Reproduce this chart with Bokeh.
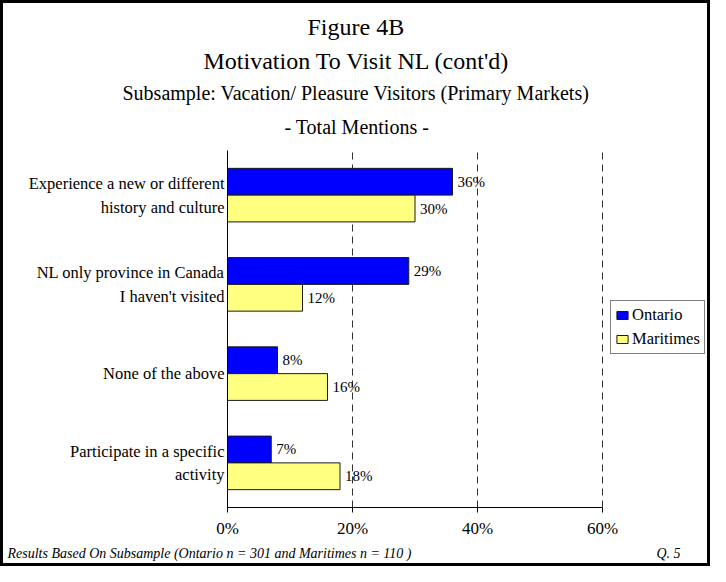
from bokeh.plotting import figure
from bokeh.models import (FactorRange, Range1d, FixedTicker, NumeralTickFormatter,
                          Title, Legend, LegendItem, ColumnDataSource)
from bokeh.transform import dodge
from bokeh.core.properties import value
from bokeh.embed import file_html
from bokeh.resources import INLINE

# ---- data ----
categories = [
    "Experience a new or different\nhistory and culture",
    "NL only province in Canada\nI haven't visited",
    "None of the above",
    "Participate in a specific\nactivity",
]
series_names = ["Ontario", "Maritimes"]
ontario = [0.36, 0.29, 0.08, 0.07]
maritimes = [0.30, 0.12, 0.16, 0.18]
x_ticks = [0, 0.2, 0.4, 0.6]
grid_ticks = [0.2, 0.4, 0.6]

title_lines = [
    "Figure 4B",
    "Motivation To Visit NL (cont'd)",
    "Subsample: Vacation/ Pleasure Visitors (Primary Markets)",
    "- Total Mentions -",
]
footer_text = "Results Based On Subsample (Ontario n = 301 and Maritimes n = 110 )"
question_text = "Q. 5"

FONT = "Liberation Serif"
ONT_COLOR = "#0000FF"
MAR_COLOR = "#FFFF80"
EDGE = "#1a1a1a"

# layout (pixels)
AXIS_W = 375                      # width of the 0..60% axis
ML, MR, MT, MB = 224, 2, 147, 56
FW, FH = 704 - ML - MR, 357
X_MAX = x_ticks[-1] * FW / AXIS_W  # frame extends right to hold the legend

src = ColumnDataSource(dict(
    cat=categories,
    ontario=ontario,
    maritimes=maritimes,
    ont_lbl=[f"{v:.0%}" for v in ontario],
    mar_lbl=[f"{v:.0%}" for v in maritimes],
))

p = figure(frame_width=FW, frame_height=FH,
           y_range=FactorRange(factors=categories[::-1]),
           x_range=Range1d(0, X_MAX),
           output_backend="svg", toolbar_location=None,
           title_location=None,
           min_border_left=ML, min_border_right=MR,
           min_border_top=MT, min_border_bottom=MB)
p.styles = {"border": "3px solid black"}
p.background_fill_color = "white"
p.border_fill_color = "white"
p.outline_line_color = None

off = 0.15
bh = 0.3
r_ont = p.hbar(y=dodge("cat", off, range=p.y_range), left=0, right="ontario", height=bh,
               source=src, fill_color=ONT_COLOR, line_color=EDGE, line_width=1)
r_mar = p.hbar(y=dodge("cat", -off, range=p.y_range), left=0, right="maritimes", height=bh,
               source=src, fill_color=MAR_COLOR, line_color=EDGE, line_width=1)

for col, lbl, o in (("ontario", "ont_lbl", off), ("maritimes", "mar_lbl", -off)):
    p.text(x=col, y=dodge("cat", o, range=p.y_range), text=lbl, source=src,
           x_offset=5, text_align="left", text_baseline="middle",
           text_font=value(FONT), text_font_size="15px", text_color="black")

# axes
p.xaxis.ticker = FixedTicker(ticks=x_ticks)
p.xaxis.bounds = (x_ticks[0], x_ticks[-1])
p.xaxis.formatter = NumeralTickFormatter(format="0%")
p.xaxis.axis_line_color = "black"
p.xaxis.major_tick_line_color = "black"
p.xaxis.major_tick_out = 5
p.xaxis.major_tick_in = 0
p.xaxis.minor_tick_line_color = None
p.xaxis.major_label_text_font = FONT
p.xaxis.major_label_text_font_size = "17px"
p.xaxis.major_label_text_color = "black"
p.xaxis.major_label_standoff = 6

p.yaxis.axis_line_color = "black"
p.yaxis.major_tick_line_color = None
p.yaxis.minor_tick_line_color = None
p.yaxis.major_label_text_font = FONT
p.yaxis.major_label_text_font_size = "16.5px"
p.yaxis.major_label_text_color = "black"
p.yaxis.major_label_text_line_height = 1.25
p.yaxis.major_label_standoff = -3

p.xgrid.ticker = FixedTicker(ticks=grid_ticks)
p.xgrid.grid_line_color = "#303030"
p.xgrid.grid_line_dash = "7 5"
p.xgrid.grid_line_width = 1
p.ygrid.visible = False

legend = Legend(items=[LegendItem(label=series_names[0], renderers=[r_ont]),
                       LegendItem(label=series_names[1], renderers=[r_mar])],
                location=(AXIS_W + 8, FH // 2 - 25), margin=0, padding=4, spacing=4,
                glyph_width=14, glyph_height=10, label_standoff=3, label_height=20,
                label_text_font=FONT, label_text_font_size="16.5px",
                label_text_color="black", border_line_color="black",
                border_line_width=1, background_fill_color="white",
                background_fill_alpha=1.0)
p.add_layout(legend)

# titles: the first added sits nearest the plot; left-aligned with offsets
# chosen so each line is centred on the whole figure
title_sizes = ["24px", "24px", "20px", "20px"]
title_standoffs = [-2, 15, -4, 25]
title_offsets = [80, -24, -105, 57]
for t, s, so, ox in reversed(list(zip(title_lines, title_sizes, title_standoffs, title_offsets))):
    p.add_layout(Title(text=t, align="left", offset=ox, standoff=so,
                       text_font=FONT, text_font_size=s, text_font_style="normal",
                       text_color="black"), "above")

nbsp = "\u00a0"
p.add_layout(Title(text=footer_text + nbsp * 70 + question_text, align="left",
                   offset=-220, standoff=6, text_font=FONT, text_font_style="italic",
                   text_font_size="14px", text_color="black"), "below")

open("out.html", "w").write(file_html(p, INLINE))
